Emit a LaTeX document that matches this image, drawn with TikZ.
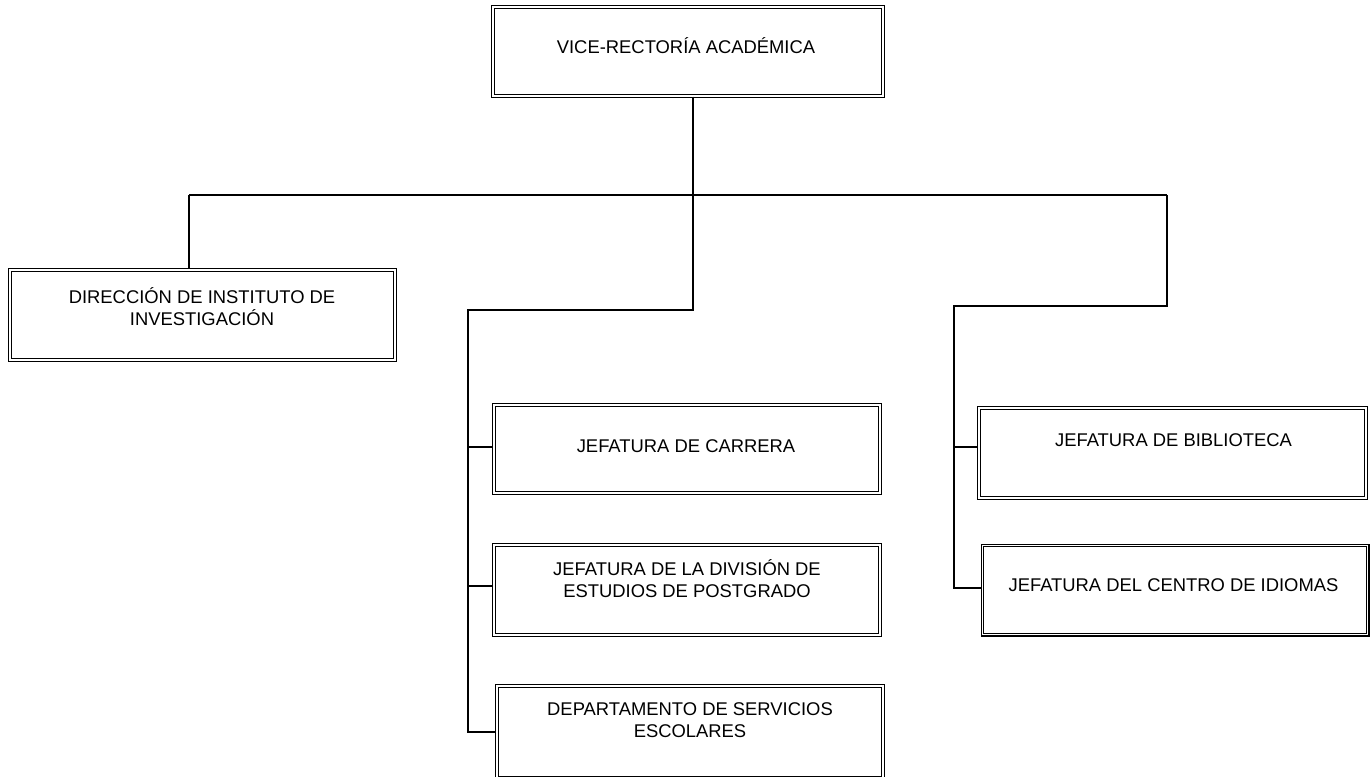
\documentclass[tikz,border=0pt]{standalone}
\usepackage{fontspec}
\setmainfont{Liberation Sans}
\begin{document}
\begin{tikzpicture}[x=0.75pt,y=-0.75pt,
  box/.style 2 args={draw, double, double distance=1.1pt, line width=0.9pt, inner sep=0pt,
    minimum width=#1*0.75pt-2.9pt, minimum height=#2*0.75pt-2.9pt},
  txt/.style={align=center, font=\fontsize{13.8}{16.5}\selectfont, inner sep=0pt},
  conn/.style={line width=1.6pt}]
\useasboundingbox (0,0) rectangle (1371,776);
% boxes
\node[box={394}{93}] (b0) at (688,51.5) {};
\node[box={389}{94}] (b1) at (202.5,315) {};
\node[box={390}{92}] (b2) at (687,449) {};
\node[box={390}{94}] (b3) at (687,590) {};
\node[box={390}{96}] (b4) at (690,732) {};
\node[box={391}{94}] (b5) at (1172.5,453) {};
\node[box={389}{93}] (b6) at (1175,590) {};
% texts
\node[txt] (t0) at (686,46) {VICE-RECTORÍA ACADÉMICA};
\node[txt] (t1) at (202,307) {DIRECCIÓN DE INSTITUTO DE\\INVESTIGACIÓN};
\node[txt] (t2) at (686,446) {JEFATURA DE CARRERA};
\node[txt] (t3) at (687,579) {JEFATURA DE LA DIVISIÓN DE\\ESTUDIOS DE POSTGRADO};
\node[txt] (t4) at (690,720) {DEPARTAMENTO DE SERVICIOS\\ESCOLARES};
\node[txt] (t5) at (1173.5,440) {JEFATURA DE BIBLIOTECA};
\node[txt] (t6) at (1173.5,585) {JEFATURA DEL CENTRO DE IDIOMAS};
% junction coordinates
\coordinate (v) at (693,195);
\coordinate (lt) at (189,195);
\coordinate (rt) at (1167,195);
\coordinate (L) at (468,310);
\coordinate (R) at (954,306);
\coordinate (l1) at (468,447);
\coordinate (l2) at (468,586);
\coordinate (l3) at (468,732);
\coordinate (r1) at (954,447);
\coordinate (r2) at (954,588);
% connectors
\draw[conn] (b0.south -| v) -- (v |- L) -- (L) -- (l3) -- (l3 -| b4.west);
\draw[conn] (lt) -- (rt);
\draw[conn] (lt) -- (lt |- b1.north);
\draw[conn] (rt) |- (R) -- (r2) -- (r2 -| b6.west);
\draw[conn] (l1) -- (l1 -| b2.west);
\draw[conn] (l2) -- (l2 -| b3.west);
\draw[conn] (r1) -- (r1 -| b5.west);
\end{tikzpicture}
\end{document}
